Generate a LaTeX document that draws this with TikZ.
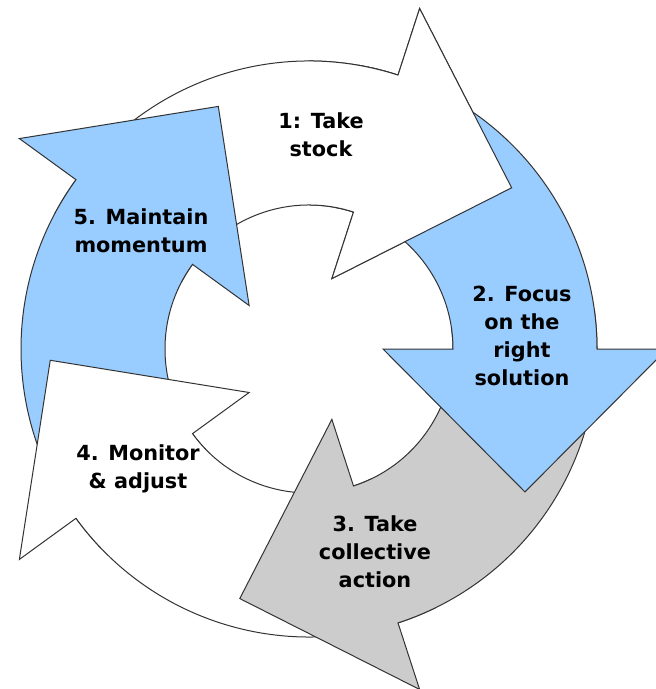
\documentclass[tikz,border=0pt]{standalone}
\usepackage{fontspec}
\setsansfont{DejaVu Sans}
\definecolor{stepblue}{HTML}{99CCFF}
\definecolor{stepgray}{HTML}{CCCCCC}

\begin{document}
\begin{tikzpicture}[x=0.75pt, y=0.75pt, line width=0.75pt,
    arrowshape/.style={draw=black!80, line join=miter},
    steptext/.style={font=\sffamily\bfseries\fontsize{15.6}{21}\selectfont, align=center}]
    % page frame
    \useasboundingbox (-309,-340) rectangle (347,349);
    \fill[white] (-309,-340) rectangle (347,349);
    \clip (-309,-340) rectangle (347,349);

    % arrow 1 (top, first pass)
    \draw[arrowshape, fill=white] (152:288) arc[start angle=152, end angle=72, radius=288]
        -- (72:358) -- (38.5:259) -- (72:74) -- (72:144)
        arc[start angle=72, end angle=152, radius=144] -- cycle;

    % arrow 5 (upper left)
    \draw[arrowshape, fill=stepblue] (224:288) arc[start angle=224, end angle=144, radius=288]
        -- (144:358) -- (110.5:259) -- (144:74) -- (144:144)
        arc[start angle=144, end angle=224, radius=144] -- cycle;

    % arrow 4 (lower left)
    \draw[arrowshape, fill=white] (296:288) arc[start angle=296, end angle=216, radius=288]
        -- (216:358) -- (182.5:259) -- (216:74) -- (216:144)
        arc[start angle=216, end angle=296, radius=144] -- cycle;

    % arrow 3 (bottom)
    \draw[arrowshape, fill=stepgray] (8:288) arc[start angle=8, end angle=-72, radius=288]
        -- (-72:358) -- (-105.5:259) -- (-72:74) -- (-72:144)
        arc[start angle=-72, end angle=8, radius=144] -- cycle;

    % arrow 2 (right)
    \draw[arrowshape, fill=stepblue] (80:288) arc[start angle=80, end angle=0, radius=288]
        -- (0:358) -- (-33.5:259) -- (0:74) -- (0:144)
        arc[start angle=0, end angle=80, radius=144] -- cycle;

    % arrow 1 again, right half only, so its head lies over arrow 2
    \begin{scope}
        \clip (0,0) rectangle (347,349);
        \draw[arrowshape, fill=white] (152:288) arc[start angle=152, end angle=72, radius=288]
            -- (72:358) -- (38.5:259) -- (72:74) -- (72:144)
            arc[start angle=72, end angle=152, radius=144] -- cycle;
    \end{scope}

    % labels
    \node[steptext] (stock) at (12,214) {1: Take\\stock};
    \node[steptext] (focus) at (213,13) {2. Focus\\on the\\right\\solution};
    \node[steptext] (action) at (66,-203) {3. Take\\collective\\action};
    \node[steptext] (monitor) at (-171,-120) {4. Monitor\\\& adjust};
    \node[steptext] (momentum) at (-168,118) {5. Maintain\\momentum};

\end{tikzpicture}
\end{document}
